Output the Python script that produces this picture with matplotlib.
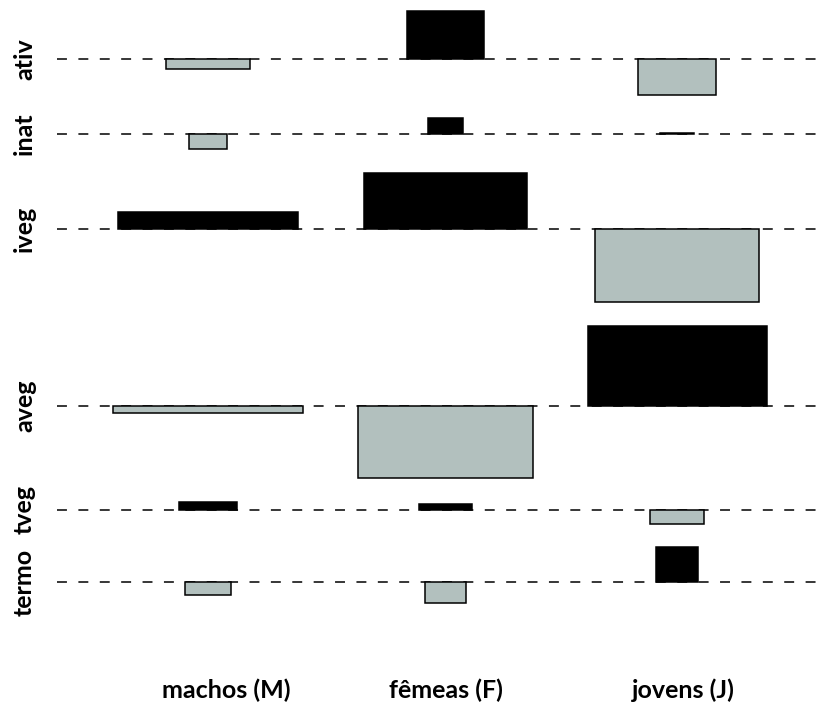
import numpy as np
import matplotlib
matplotlib.use("Agg")
import matplotlib.pyplot as plt
from matplotlib.patches import Rectangle
from matplotlib.transforms import ScaledTranslation

# Association plot: activity (rows) by group (columns)
activities = ["ativ", "inat", "iveg", "aveg", "tveg", "termo"]
groups = ["machos (M)", "fêmeas (F)", "jovens (J)"]

# Box widths: square root of the expected counts (rows = activities)
sqrt_expected = np.array([
    [84, 78, 78],
    [39, 36, 35],
    [180, 164, 164],
    [192, 176, 180],
    [59, 54, 54],
    [46, 42, 42],
], dtype=float)

# Box heights: Pearson residuals (observed - expected) / sqrt(expected)
residuals = np.array([
    [-10, 49, -36],
    [-15, 16, 1],
    [17, 57, -74],
    [-7, -73, 81],
    [8, 6, -14],
    [-13, -21, 35],
], dtype=float)

pos_color = "black"
neg_color = "#b2c0be"
space = 0.3

# Layout in the manner of R's assocplot
col_w = sqrt_expected.max(axis=0)
row_h = residuals.max(axis=1) - residuals.min(axis=1)
x_delta = col_w.mean() * space
y_delta = row_h.mean() * space
x_r = np.cumsum(col_w + x_delta)
x_m = (np.concatenate([[0], x_r[:-1]]) + x_r) / 2
# rows stacked from the bottom (last activity at the bottom)
h_rev = row_h[::-1]
pmax_rev = np.maximum(residuals, 0).max(axis=1)[::-1]
y_u = np.cumsum(h_rev + y_delta)
y_m = (y_u - pmax_rev - y_delta / 2)[::-1]

xmax = x_r[-1]
ymax = y_u[-1]
xlim = (-0.04 * xmax, 1.04 * xmax)
ylim = (-0.04 * ymax, 1.04 * ymax)

W, H = 816, 711
fig = plt.figure(figsize=(W / 100, H / 100), dpi=100)
plt.rcParams["font.family"] = ["Lato", "DejaVu Sans"]

# plot region placement in pixels
sx, sy = 0.9945, 0.989
px0 = 208 - sx * x_m[0]
py0 = 582 + sy * y_m[-1]
ax_left = px0 + sx * xlim[0]
ax_w = sx * (xlim[1] - xlim[0])
ax_bottom_top = py0 - sy * ylim[0]
ax_h = sy * (ylim[1] - ylim[0])
ax = fig.add_axes([ax_left / W, (H - ax_bottom_top) / H, ax_w / W, ax_h / H])
ax.set_xlim(*xlim)
ax.set_ylim(*ylim)

for i in range(len(activities)):
    for j in range(len(groups)):
        w = sqrt_expected[i, j]
        d = residuals[i, j]
        rect = Rectangle((x_m[j] - w / 2, y_m[i]), w, d,
                         facecolor=pos_color if d > 0 else neg_color,
                         edgecolor="black", linewidth=1.1, zorder=2)
        ax.add_patch(rect)

for y in y_m:
    ax.axhline(y, color="black", linewidth=1.1,
               linestyle=(0, (6.5, 7.5)), zorder=1)

ax.set_xticks(x_m)
ax.set_xticklabels(groups, fontsize=18, fontweight="bold")
ax.set_yticks(y_m)
ax.set_yticklabels(activities, fontsize=18, fontweight="bold",
                   rotation=90, va="center")
ax.tick_params(axis="x", length=0, pad=28)
ax.tick_params(axis="y", length=0, pad=15)
for s in ax.spines.values():
    s.set_visible(False)

# small horizontal nudges of the group labels (pixels)
label_shift_px = [18, 0, 6]
for lab, dx in zip(ax.get_xticklabels(), label_shift_px):
    lab.set_transform(lab.get_transform()
                      + ScaledTranslation(dx / 100, 0, fig.dpi_scale_trans))

fig.savefig("out.png", dpi=100)
